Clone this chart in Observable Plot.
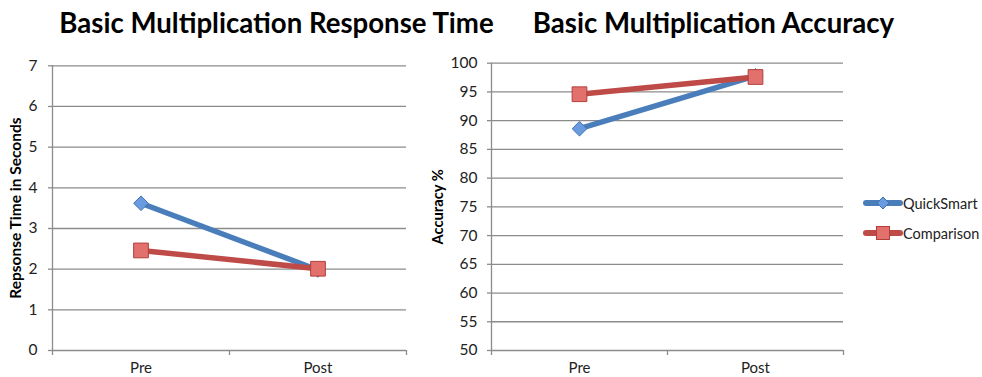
<!DOCTYPE html>
<html>
<head>
<meta charset="utf-8">
<script src="https://cdn.jsdelivr.net/npm/d3@7"></script>
<script src="https://cdn.jsdelivr.net/npm/@observablehq/plot@0.6"></script>
<style>
  html, body { margin: 0; padding: 0; background: #fff; }
  #root { position: relative; width: 982px; height: 377px; overflow: hidden; font-family: Lato, "Open Sans", sans-serif; }
  .title { position: absolute; font-weight: 700; font-size: 27.6px; line-height: 1; color: #000; white-space: nowrap; transform: translateX(-50%); }
  .chart { position: absolute; top: 0; }
  #legend { position: absolute; left: 861px; top: 193px; font-size: 14.5px; color: #222; }
  #legend .row { display: flex; align-items: center; height: 20px; margin-bottom: 10px; white-space: nowrap; }
  #legend svg { display: block; margin-right: 0px; }
</style>
</head>
<body>
<div id="root"></div>
<script>
// ---- data ----
const phases = ["Pre", "Post"];
const seriesNames = ["QuickSmart", "Comparison"];
const quickSmartTime = [3.62, 1.98];
const comparisonTime = [2.46, 2.01];
const quickSmartAccuracy = [88.6, 97.8];
const comparisonAccuracy = [94.6, 97.6];
const timeTicks = [0, 1, 2, 3, 4, 5, 6, 7];
const accuracyTicks = [50, 55, 60, 65, 70, 75, 80, 85, 90, 95, 100];
const titles = ["Basic Multiplication Response Time", "Basic Multiplication Accuracy"];
const yLabels = ["Repsonse Time in Seconds", "Accuracy %"];

const blueLine = "#4a7ebb", redLine = "#be4b48";
const blueFill = "#6a9be0", blueStroke = "#3f70b0";
const redFill = "#e2716e", redStroke = "#b23f3c";
const gridColor = "#8c8c8c";

function rowsFor(qs, cmp) {
  const rows = [];
  phases.forEach((p, i) => {
    rows.push({series: seriesNames[0], xi: i + 0.5, value: qs[i]});
    rows.push({series: seriesNames[1], xi: i + 0.5, value: cmp[i]});
  });
  return rows;
}

function chart({rows, ticks, yLabel, width, marginLeft, marginRight, marginTop, tickPadding, labelDx, labelSize}) {
  const qs = rows.filter(d => d.series === seriesNames[0]);
  const cmp = rows.filter(d => d.series === seriesNames[1]);
  return Plot.plot({
    width, height: 377,
    marginLeft, marginRight, marginTop, marginBottom: 27,
    style: {fontFamily: "Lato, 'Open Sans', sans-serif", fontSize: "15.5px", color: "#222", background: "transparent", overflow: "visible"},
    x: {type: "linear", domain: [0, phases.length], axis: null},
    y: {domain: [ticks[0], ticks[ticks.length - 1]], axis: null},
    marks: [
      Plot.gridY(ticks, {stroke: gridColor, strokeOpacity: 1, strokeWidth: 1.3}),
      Plot.axisY(ticks, {tickSize: 4, tickPadding, stroke: gridColor, strokeWidth: 1.3, label: null, fill: "#222", fontSize: 15.5}),
      Plot.ruleX([0], {stroke: gridColor, strokeWidth: 1.3}),
      Plot.axisX(d3.range(phases.length + 1), {tickSize: 5, tickFormat: () => "", stroke: gridColor, strokeWidth: 1.3, label: null}),
      Plot.axisX(phases.map((p, i) => i + 0.5), {tickSize: 0, tickPadding: 12, tickFormat: v => phases[Math.round(v - 0.5)], label: null, fill: "#222", fontSize: 15}),
      Plot.text([yLabel], {frameAnchor: "left", textAnchor: "middle", rotate: -90, dx: labelDx, fontWeight: "bold", fontSize: labelSize, fill: "#000"}),
      Plot.line(qs, {x: "xi", y: "value", stroke: blueLine, strokeWidth: 5.5}),
      Plot.dot(qs, {x: "xi", y: "value", symbol: "diamond2", r: 6.6, fill: blueFill, stroke: blueStroke, strokeWidth: 1}),
      Plot.line(cmp, {x: "xi", y: "value", stroke: redLine, strokeWidth: 5.5}),
      Plot.dot(cmp, {x: "xi", y: "value", symbol: "square", r: 8.3, fill: redFill, stroke: redStroke, strokeWidth: 1})
    ]
  });
}

const root = document.getElementById("root");

const left = chart({
  rows: rowsFor(quickSmartTime, comparisonTime), ticks: timeTicks, yLabel: yLabels[0],
  width: 420, marginLeft: 52, marginRight: 14, marginTop: 65.3, tickPadding: 11, labelDx: -36, labelSize: 15.5
});
left.classList.add("chart");
left.style.left = "0px";
root.appendChild(left);

const right = chart({
  rows: rowsFor(quickSmartAccuracy, comparisonAccuracy), ticks: accuracyTicks, yLabel: yLabels[1],
  width: 440, marginLeft: 81, marginRight: 7, marginTop: 62.7, tickPadding: 10, labelDx: -53, labelSize: 14.7
});
right.classList.add("chart");
right.style.left = "410px";
root.appendChild(right);

// titles
[[titles[0], 276.5], [titles[1], 713.5]].forEach(([t, cx]) => {
  const d = document.createElement("div");
  d.className = "title";
  d.textContent = t;
  d.style.left = cx + "px";
  d.style.top = "9px";
  root.appendChild(d);
});

// legend
const legend = document.createElement("div");
legend.id = "legend";
seriesNames.forEach((name, i) => {
  const row = document.createElement("div");
  row.className = "row";
  const color = i === 0 ? blueLine : redLine;
  const marker = i === 0
    ? `<path d="M22,4 L28,10 L22,16 L16,10 Z" fill="${blueFill}" stroke="${blueStroke}" stroke-width="1"/>`
    : `<rect x="15.5" y="3.5" width="13" height="13" fill="${redFill}" stroke="${redStroke}" stroke-width="1"/>`;
  row.innerHTML = `<svg width="42" height="20"><line x1="5" x2="39" y1="10" y2="10" stroke="${color}" stroke-width="6" stroke-linecap="round"/>${marker}</svg><span>${name}</span>`;
  legend.appendChild(row);
});
root.appendChild(legend);
</script>
</body>
</html>
